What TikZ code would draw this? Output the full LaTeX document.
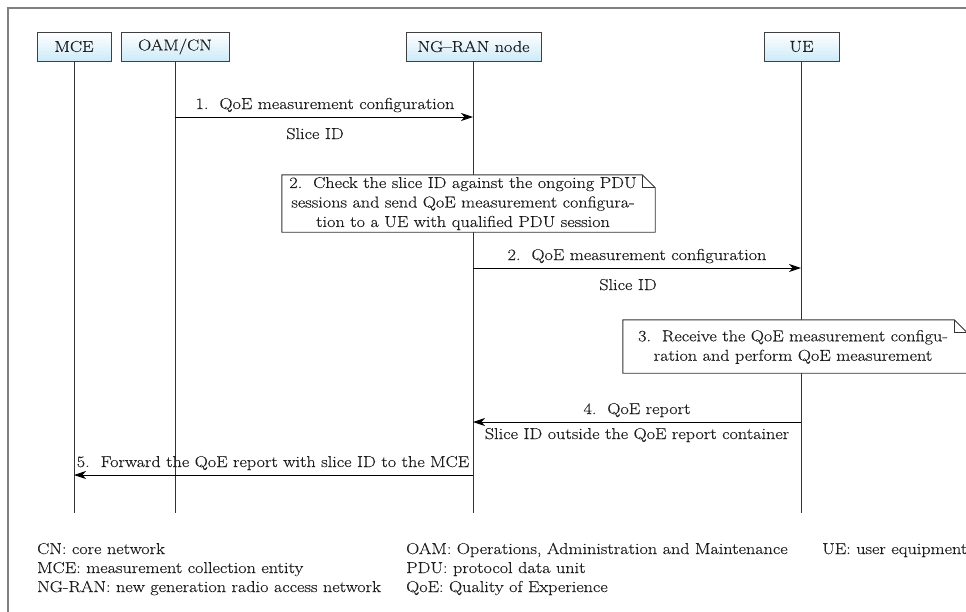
\documentclass[tikz,border=0pt]{standalone}
\usepackage{fontspec}
\setmainfont{Latin Modern Roman}[FakeStretch=1.15, FakeBold=0.3]
\usetikzlibrary{arrows.meta,calc}
\definecolor{boxblue}{RGB}{205,234,248}
\definecolor{framegray}{RGB}{128,128,128}
\definecolor{ink}{RGB}{30,30,30}
\begin{document}
\begin{tikzpicture}[x=1pt,y=-1pt,
  font=\fontsize{15.8}{19.5}\selectfont, text=ink,
  actor/.style={draw=black!75, line width=0.9pt, top color=white, bottom color=boxblue,
    minimum height=29pt, inner xsep=0pt, inner ysep=0pt},
  life/.style={draw=black!80, line width=0.9pt},
  msg/.style={draw=black, line width=0.9pt, -{Stealth[length=12pt,width=8pt,inset=3.5pt]}},
  lbl/.style={inner sep=0pt, anchor=base},
  notebox/.style={inner sep=0pt, align=center},
  noteline/.style={draw=black!80, line width=0.9pt, fill=white},
  legend/.style={inner sep=0pt, anchor=base west}]
\useasboundingbox (0,0) rectangle (966,611);
\clip (0,0) rectangle (966,611);

% outer frame
\draw[framegray, line width=1.6pt] (8,8) rectangle (1000,650);

% participants
\node[actor, minimum width=74pt]  (mce) at (74,46.5)    {MCE};
\node[actor, minimum width=108pt] (oam) at (175,46.5)   {OAM/CN};
\node[actor, minimum width=135pt] (ran) at (473.5,46.5) {NG--RAN node};
\node[actor, minimum width=75pt]  (ue)  at (801.5,46.5) {UE};

% lifeline ends
\coordinate (mceE) at (74,513);
\coordinate (oamE) at (175,513);
\coordinate (ranE) at (473,513);
\coordinate (ueE)  at (801,513);
\draw[life] (mce.south -| mceE) -- (mceE);
\draw[life] (oam.south -| oamE) -- (oamE);
\draw[life] (ran.south -| ranE) -- (ranE);
\draw[life] (ue.south -| ueE) -- (ueE);

% step 1
\coordinate (m1a) at (175,117);
\coordinate (m1b) at (473,117);
\draw[msg] (m1a) -- (m1b);
\node[lbl] (m1t) at (325,109) {1.\ \ QoE measurement configuration};
\node[lbl] (m1s) at (315,139) {Slice ID};

% step 2 note at NG-RAN node
\node[notebox, minimum width=373pt, minimum height=57pt] (n2) at (468.5,203.5) {};
\draw[noteline] (n2.north west) -- ($(n2.north east)+(-13,0)$) -- ($(n2.north east)+(0,13)$)
  -- (n2.south east) -- (n2.south west) -- cycle;
\draw[noteline, fill=none] ($(n2.north east)+(-13,0)$) -- ($(n2.north east)+(-13,13)$) -- ($(n2.north east)+(0,13)$);
\node[notebox] (n2t) at (463,203.5) {2.\ \ Check the slice ID against the ongoing PDU\\
   sessions and send QoE measurement configura-\\
   tion to a UE with qualified PDU session};

% step 2 message
\coordinate (m2a) at (473,268);
\coordinate (m2b) at (801,268);
\draw[msg] (m2a) -- (m2b);
\node[lbl] (m2t) at (637,260) {2.\ \ QoE measurement configuration};
\node[lbl] (m2s) at (628,290) {Slice ID};

% step 3 note at UE
\node[notebox, minimum width=344pt, minimum height=53pt] (n3) at (795,346.5) {};
\draw[noteline] (n3.north west) -- ($(n3.north east)+(-13,0)$) -- ($(n3.north east)+(0,13)$)
  -- (n3.south east) -- (n3.south west) -- cycle;
\draw[noteline, fill=none] ($(n3.north east)+(-13,0)$) -- ($(n3.north east)+(-13,13)$) -- ($(n3.north east)+(0,13)$);
\node[notebox] (n3t) at (793,347) {3.\ \ Receive the QoE measurement configu-\\
   ration and perform QoE measurement};

% step 4
\coordinate (m4a) at (801,422);
\coordinate (m4b) at (473,422);
\draw[msg] (m4a) -- (m4b);
\node[lbl] (m4t) at (637,414) {4.\ \ QoE report};
\node[lbl] (m4s) at (637,439) {Slice ID outside the QoE report container};

% step 5
\coordinate (m5a) at (473,475);
\coordinate (m5b) at (74,475);
\draw[msg] (m5a) -- (m5b);
\node[lbl] (m5t) at (273,467) {5.\ \ Forward the QoE report with slice ID to the MCE};

% abbreviations
\node[legend] (l1a) at (37,554)  {CN: core network};
\node[legend] (l1b) at (37,573)  {MCE: measurement collection entity};
\node[legend] (l1c) at (37,592)  {NG-RAN: new generation radio access network};
\node[legend] (l2a) at (406,554) {OAM: Operations, Administration and Maintenance};
\node[legend] (l2b) at (406,573) {PDU: protocol data unit};
\node[legend] (l2c) at (406,592) {QoE: Quality of Experience};
\node[legend] (l3a) at (822,554) {UE: user equipment};
\end{tikzpicture}
\end{document}
